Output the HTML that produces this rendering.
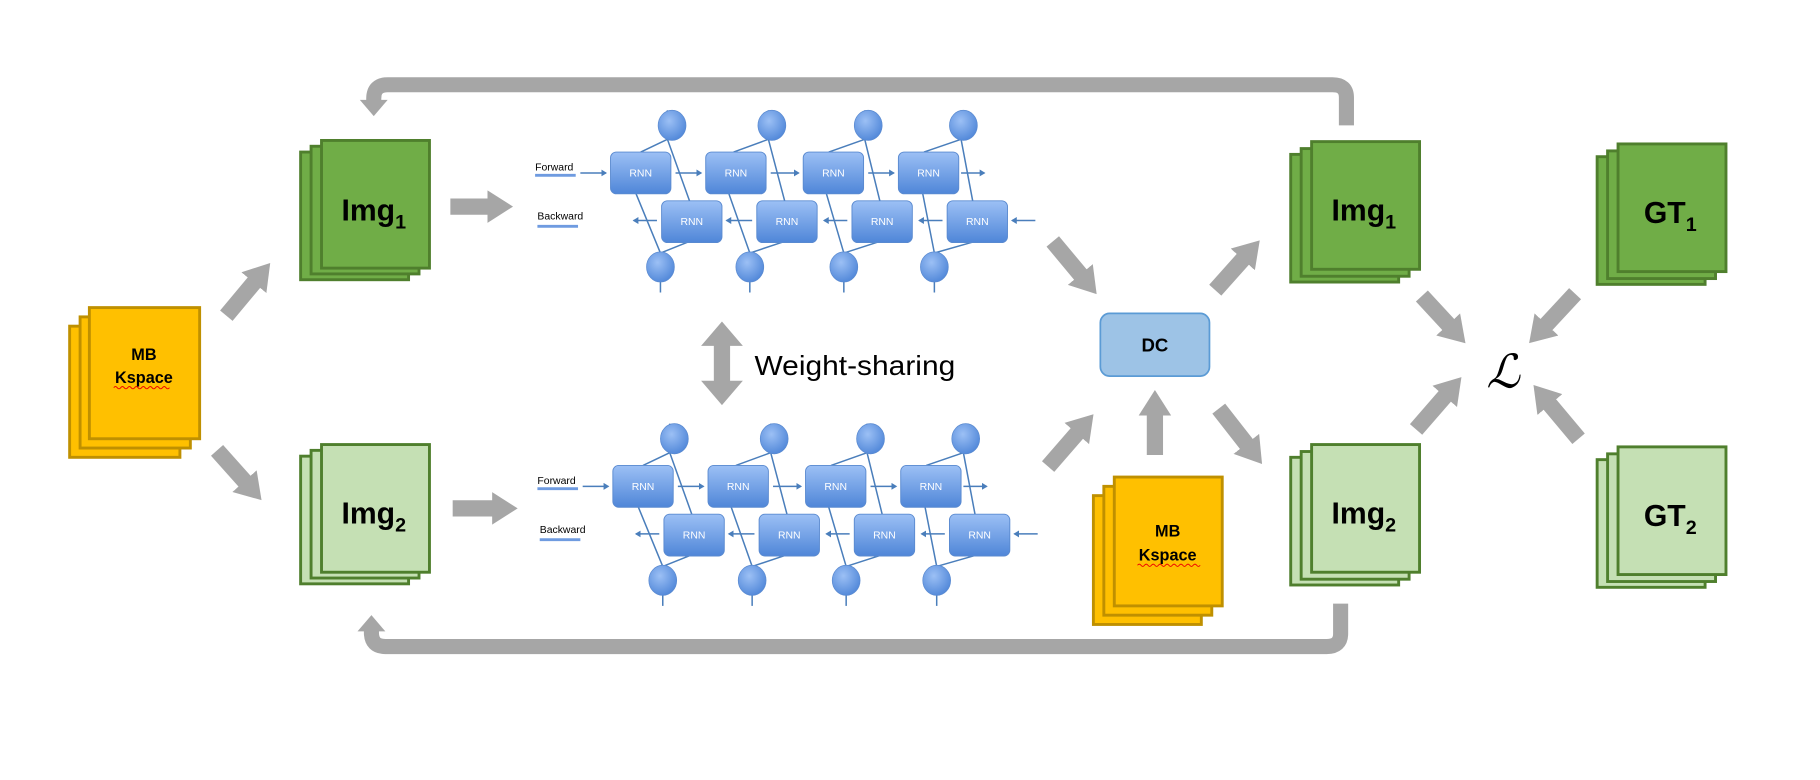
<!DOCTYPE html>
<html><head><meta charset="utf-8"><style>html,body{margin:0;padding:0;background:#fff}svg{display:block}</style></head>
<body>
<svg width="1820" height="780" viewBox="0 0 1568 672" preserveAspectRatio="none" xmlns="http://www.w3.org/2000/svg" font-family="Liberation Sans, sans-serif">
<defs>
<marker id="ah" markerUnits="userSpaceOnUse" markerWidth="30" markerHeight="30" refX="2" refY="14" orient="auto"><path d="M0,0 L22,14 L0,28 z" fill="#a6a6a6"/></marker>
<marker id="bh" markerUnits="userSpaceOnUse" markerWidth="8" markerHeight="8" refX="4" refY="3" orient="auto"><path d="M0,0 L5,3 L0,6 z" fill="#4a7ebb"/></marker>
<linearGradient id="rg" x1="0" y1="0" x2="0" y2="1"><stop offset="0" stop-color="#9cc0f5"/><stop offset="1" stop-color="#4f86d8"/></linearGradient>
<radialGradient id="cg" cx="0.4" cy="0.35" r="0.7"><stop offset="0" stop-color="#9cc0f5"/><stop offset="1" stop-color="#4f86d8"/></radialGradient>
<g id="rnn">
  <g stroke="#4a7ebb" stroke-width="1.3" fill="none">
    <line x1="575" y1="95" x2="575" y2="102"/><line x1="662" y1="95" x2="662" y2="102"/><line x1="745" y1="95" x2="745" y2="102"/><line x1="828" y1="95" x2="828" y2="102"/>
    <line x1="569" y1="242" x2="569" y2="252"/><line x1="646" y1="242" x2="646" y2="252"/><line x1="727" y1="242" x2="727" y2="252"/><line x1="805" y1="242" x2="805" y2="252"/>
    <path d="M569,218 L548,167 M569,218 L594,208 M552,131 L575,120 M575,120 L594,173"/>
    <path d="M646,218 L628,167 M646,218 L676,208 M632,131 L662,120 M662,120 L676,173"/>
    <path d="M727,218 L712,167 M727,218 L758,208 M714,131 L745,120 M745,120 L758,173"/>
    <path d="M805,218 L795,167 M805,218 L840,208 M796,131 L828,120 M828,120 L838,173"/>
    <line x1="500" y1="149" x2="522" y2="149" marker-end="url(#bh)"/>
    <line x1="582" y1="149" x2="604" y2="149" marker-end="url(#bh)"/>
    <line x1="664" y1="149" x2="688" y2="149" marker-end="url(#bh)"/>
    <line x1="748" y1="149" x2="770" y2="149" marker-end="url(#bh)"/>
    <line x1="828" y1="149" x2="848" y2="149" marker-end="url(#bh)"/>
    <line x1="566" y1="190" x2="546" y2="190" marker-end="url(#bh)"/>
    <line x1="648" y1="190" x2="626" y2="190" marker-end="url(#bh)"/>
    <line x1="730" y1="190" x2="710" y2="190" marker-end="url(#bh)"/>
    <line x1="812" y1="190" x2="792" y2="190" marker-end="url(#bh)"/>
    <line x1="892" y1="190" x2="872" y2="190" marker-end="url(#bh)"/>
  </g>
  <g fill="url(#rg)" stroke="#5a8ad0" stroke-width="0.8">
    <rect x="526" y="131" width="52" height="36" rx="5"/><rect x="608" y="131" width="52" height="36" rx="5"/><rect x="692" y="131" width="52" height="36" rx="5"/><rect x="774" y="131" width="52" height="36" rx="5"/>
    <rect x="570" y="173" width="52" height="36" rx="5"/><rect x="652" y="173" width="52" height="36" rx="5"/><rect x="734" y="173" width="52" height="36" rx="5"/><rect x="816" y="173" width="52" height="36" rx="5"/>
  </g>
  <g fill="url(#cg)" stroke="#5a8ad0" stroke-width="0.6">
    <ellipse cx="579" cy="108" rx="12" ry="13"/><ellipse cx="665" cy="108" rx="12" ry="13"/><ellipse cx="748" cy="108" rx="12" ry="13"/><ellipse cx="830" cy="108" rx="12" ry="13"/>
    <ellipse cx="569" cy="230" rx="12" ry="13"/><ellipse cx="646" cy="230" rx="12" ry="13"/><ellipse cx="727" cy="230" rx="12" ry="13"/><ellipse cx="805" cy="230" rx="12" ry="13"/>
  </g>
  <g fill="#fff" font-size="9" text-anchor="middle">
    <text x="552" y="152">RNN</text><text x="634" y="152">RNN</text><text x="718" y="152">RNN</text><text x="800" y="152">RNN</text>
    <text x="596" y="194">RNN</text><text x="678" y="194">RNN</text><text x="760" y="194">RNN</text><text x="842" y="194">RNN</text>
  </g>
  <text x="461" y="147" font-size="9" fill="#000">Forward</text>
  <line x1="461" y1="151" x2="496" y2="151" stroke="#6f9be0" stroke-width="2.5"/>
  <text x="463" y="189" font-size="9" fill="#000">Backward</text>
  <line x1="463" y1="195" x2="498" y2="195" stroke="#6f9be0" stroke-width="2.5"/>
</g>
</defs>

<g fill="none" stroke="#a6a6a6" stroke-width="13">
  <path d="M1160,108 L1160,84 Q1160,73 1148,73 L334,73 Q322,73 322,85 L322,88"/>
  <path d="M1155,520 L1155,546 Q1155,557 1143,557 L332,557 Q320,557 320,545 L320,542"/>
</g>
<path d="M310,86 L334,86 L322,100 z" fill="#a6a6a6"/>
<path d="M308,544 L332,544 L320,530 z" fill="#a6a6a6"/>

<g stroke="#a6a6a6" stroke-width="14" marker-end="url(#ah)">
  <line x1="388" y1="178" x2="422" y2="178"/>
  <line x1="390" y1="438" x2="426" y2="438"/>
  <line x1="195" y1="272" x2="220" y2="242"/>
  <line x1="187" y1="388" x2="212" y2="416"/>
  <line x1="907" y1="208" x2="932" y2="238"/>
  <line x1="903" y1="402" x2="929" y2="372"/>
  <line x1="995" y1="392" x2="995" y2="356"/>
  <line x1="1047" y1="250" x2="1072" y2="222"/>
  <line x1="1050" y1="352" x2="1075" y2="384"/>
  <line x1="1225" y1="255" x2="1249" y2="281"/>
  <line x1="1357" y1="253" x2="1331" y2="281"/>
  <line x1="1220" y1="370" x2="1246" y2="340"/>
  <line x1="1360" y1="378" x2="1334" y2="347"/>
</g>
<path d="M622,277 L640,298 L629,298 L629,328 L640,328 L622,349 L604,328 L615,328 L615,298 L604,298 z" fill="#a6a6a6"/>
<text x="650" y="323" font-size="24" fill="#000" textLength="173" lengthAdjust="spacingAndGlyphs">Weight-sharing</text>

<use href="#rnn"/>
<use href="#rnn" transform="translate(2,270)"/>

<g stroke-width="2.5">
  <g fill="#70ad47" stroke="#4f7f2d">
    <rect x="259" y="131" width="93" height="110"/><rect x="268" y="126" width="93" height="110"/><rect x="277" y="121" width="93" height="110"/>
    <rect x="1112" y="133" width="93" height="110"/><rect x="1121" y="128" width="93" height="110"/><rect x="1130" y="122" width="93" height="110"/>
    <rect x="1376" y="135" width="93" height="110"/><rect x="1385" y="130" width="93" height="110"/><rect x="1394" y="124" width="93" height="110"/>
  </g>
  <g fill="#c5e0b4" stroke="#4f7f2d">
    <rect x="259" y="393" width="93" height="110"/><rect x="268" y="388" width="93" height="110"/><rect x="277" y="383" width="93" height="110"/>
    <rect x="1112" y="394" width="93" height="110"/><rect x="1121" y="389" width="93" height="110"/><rect x="1130" y="383" width="93" height="110"/>
    <rect x="1376" y="396" width="93" height="110"/><rect x="1385" y="391" width="93" height="110"/><rect x="1394" y="385" width="93" height="110"/>
  </g>
  <g fill="#ffc000" stroke="#bf9000">
    <rect x="60" y="281" width="95" height="113"/><rect x="69" y="273" width="95" height="113"/><rect x="77" y="265" width="95" height="113"/>
    <rect x="942" y="427" width="93" height="111"/><rect x="951" y="419" width="93" height="111"/><rect x="960" y="411" width="93" height="111"/>
  </g>
</g>
<rect x="948" y="270" width="94" height="54" rx="8" fill="#9dc3e6" stroke="#5b9bd5" stroke-width="1.5"/>
<text x="995" y="303" font-size="16" font-weight="bold" text-anchor="middle">DC</text>

<g font-size="26" font-weight="bold" text-anchor="middle" fill="#000">
  <text x="322" y="190">Img<tspan font-size="17" dy="7">1</tspan></text>
  <text x="322" y="451">Img<tspan font-size="17" dy="7">2</tspan></text>
  <text x="1175" y="190">Img<tspan font-size="17" dy="7">1</tspan></text>
  <text x="1175" y="451">Img<tspan font-size="17" dy="7">2</tspan></text>
  <text x="1439" y="192">GT<tspan font-size="17" dy="7">1</tspan></text>
  <text x="1439" y="453">GT<tspan font-size="17" dy="7">2</tspan></text>
</g>
<g font-size="14" font-weight="bold" text-anchor="middle">
  <text x="124" y="310">MB</text><text x="124" y="330">Kspace</text>
  <text x="1006" y="462">MB</text><text x="1006" y="483">Kspace</text>
</g>
<path d="M98,334 q1.5,-2 3,0 t3,0 t3,0 t3,0 t3,0 t3,0 t3,0 t3,0 t3,0 t3,0 t3,0 t3,0 t3,0 t3,0 t3,0 t3,0" stroke="#e00" stroke-width="0.8" fill="none"/>
<path d="M980,487 q1.5,-2 3,0 t3,0 t3,0 t3,0 t3,0 t3,0 t3,0 t3,0 t3,0 t3,0 t3,0 t3,0 t3,0 t3,0 t3,0 t3,0 t3,0 t3,0" stroke="#e00" stroke-width="0.8" fill="none"/>
<text x="1295" y="334" font-size="40" font-style="italic" font-family="DejaVu Serif, serif" text-anchor="middle">ℒ</text>
</svg>
</body></html>
